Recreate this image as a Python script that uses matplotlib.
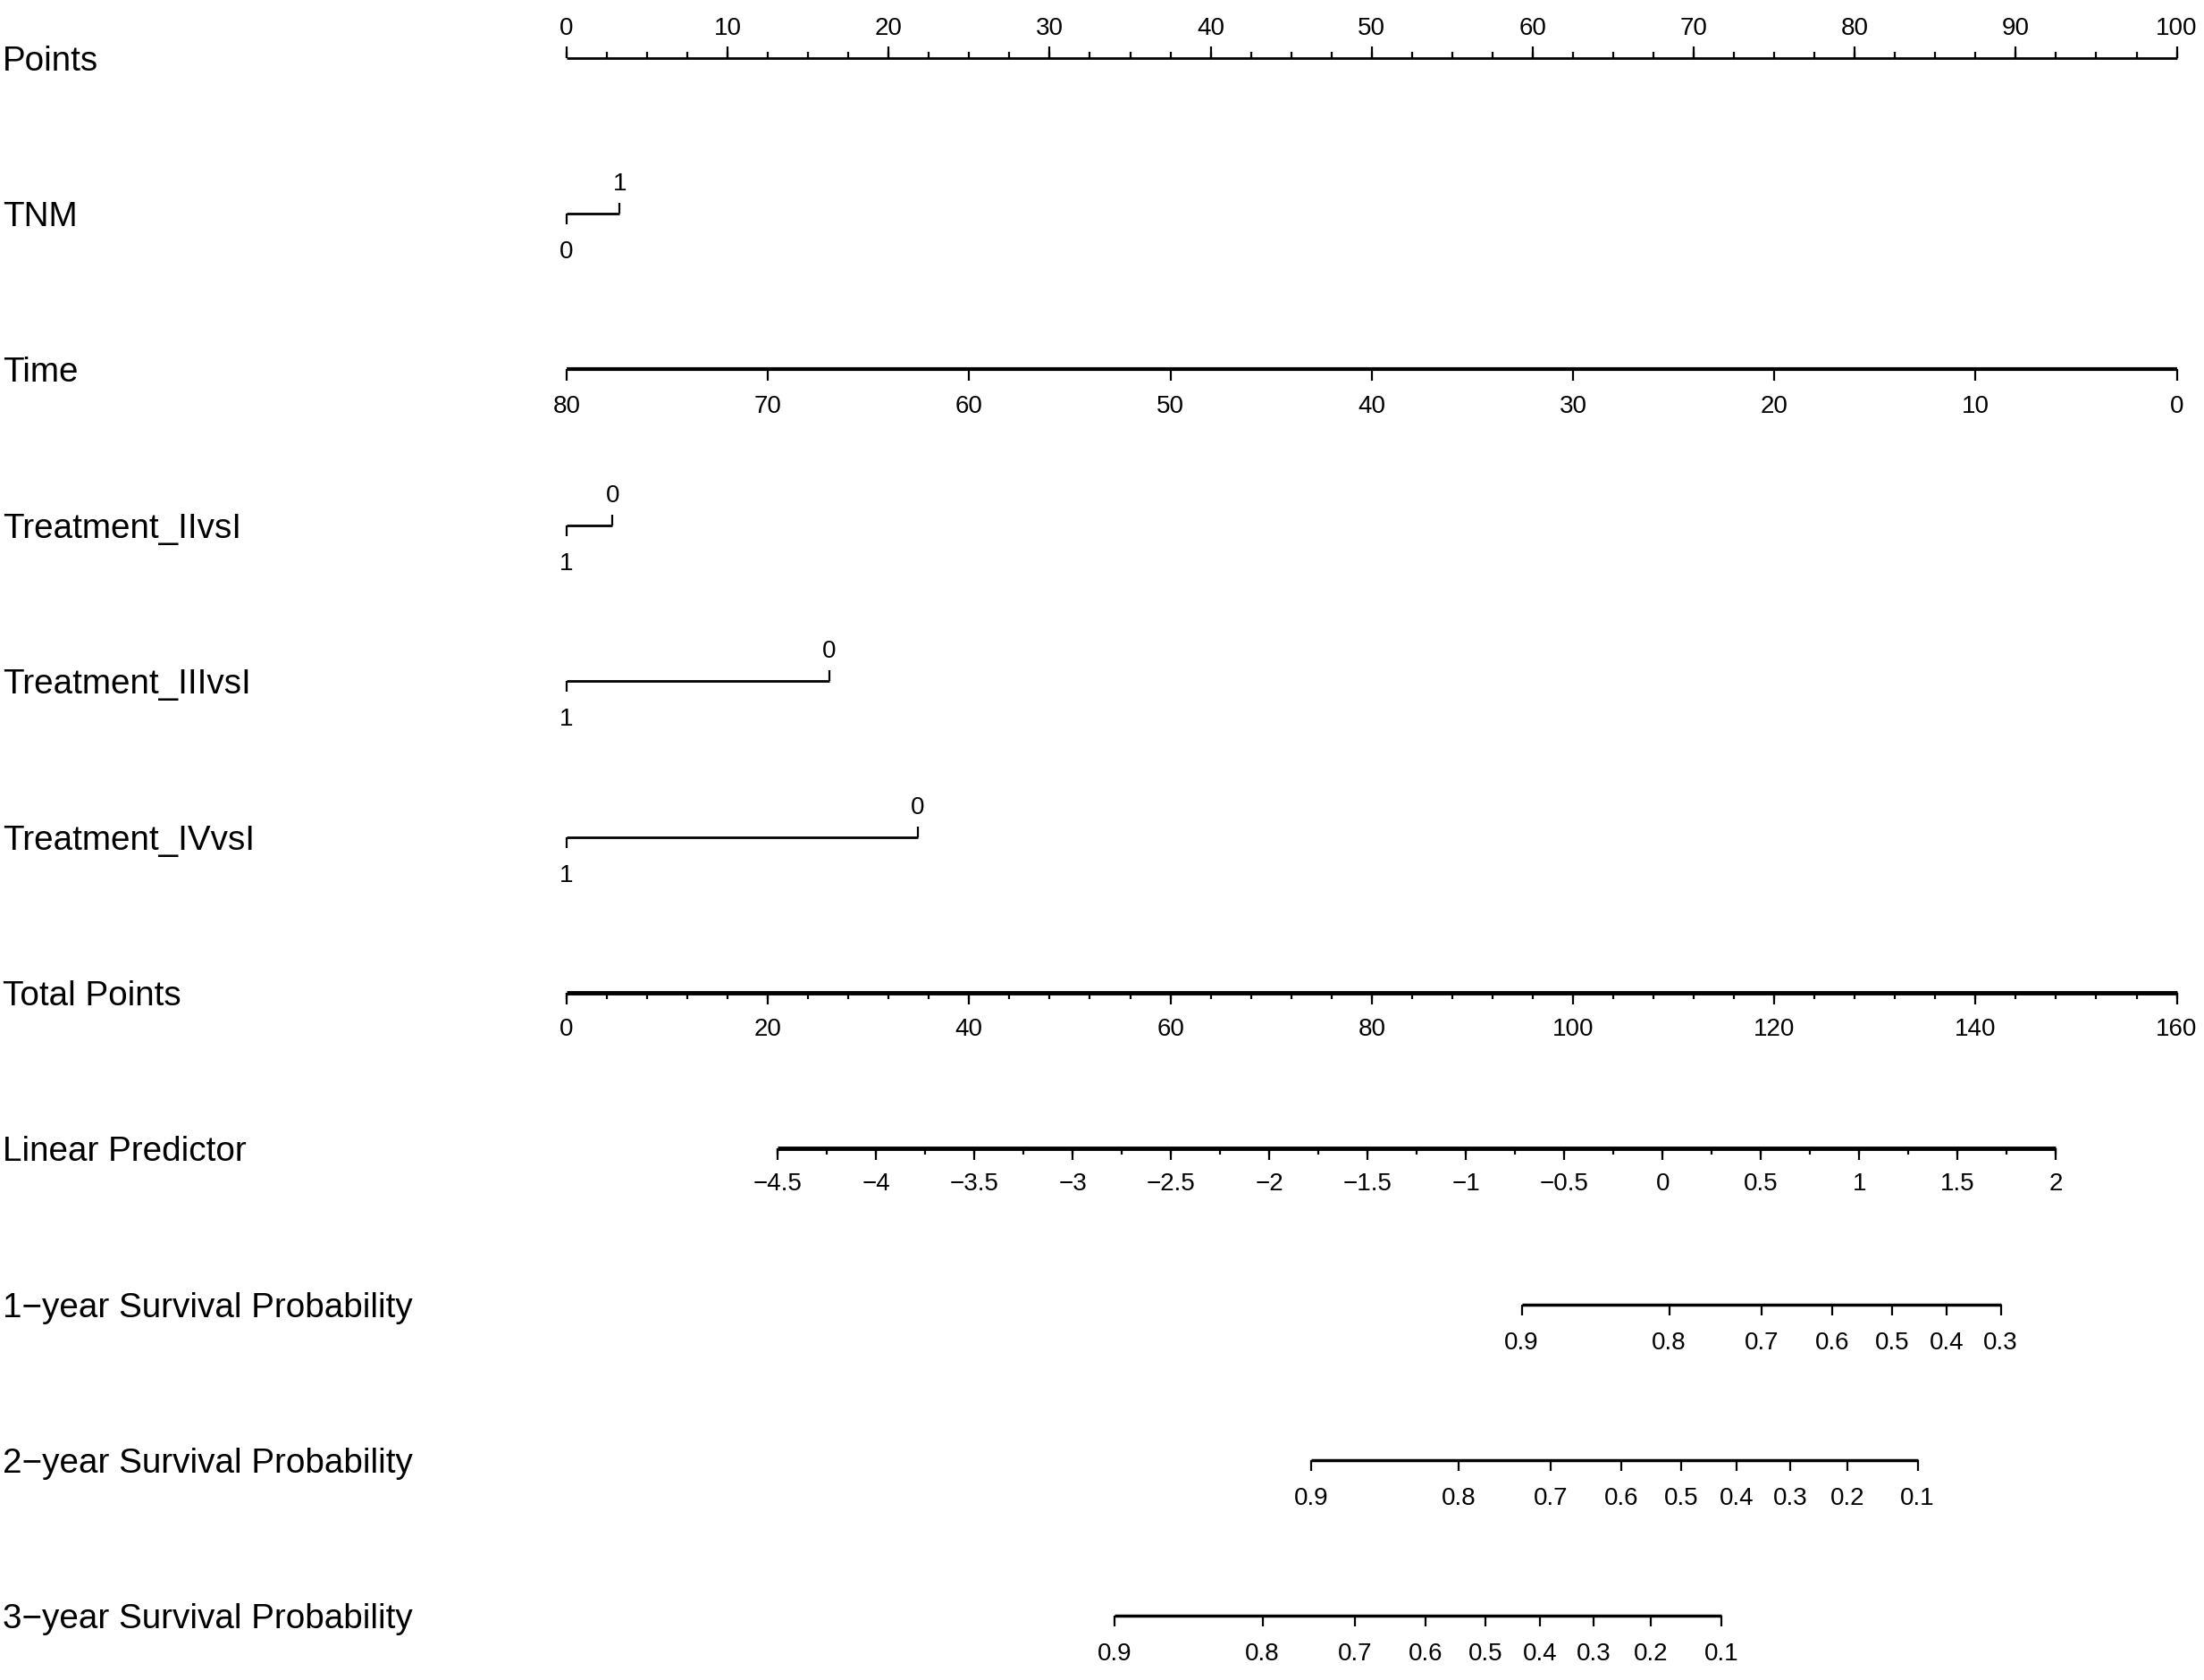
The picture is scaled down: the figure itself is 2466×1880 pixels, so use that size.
import matplotlib.pyplot as plt
import numpy as np

plt.rcParams['font.family'] = ['Liberation Sans', 'DejaVu Sans']

# nomogram rows, top to bottom
row_labels = ['Points', 'TNM', 'Time', 'Treatment_IIvsI', 'Treatment_IIIvsI',
              'Treatment_IVvsI', 'Total Points', 'Linear Predictor',
              '1\u2212year Survival Probability', '2\u2212year Survival Probability',
              '3\u2212year Survival Probability']

points_ticks = np.arange(0, 101, 10)
points_minor = np.arange(0, 100.1, 2.5)

tnm_levels = ['0', '1']
tnm_points = [0, 3.3]

time_ticks = [80, 70, 60, 50, 40, 30, 20, 10, 0]
time_range = [80, 0]          # Time value at 0 and at 100 points

trt2_levels = ['1', '0']
trt2_points = [0, 2.85]
trt3_levels = ['1', '0']
trt3_points = [0, 16.3]
trt4_levels = ['1', '0']
trt4_points = [0, 21.8]

total_ticks = np.arange(0, 161, 20)
total_minor = np.arange(0, 160.1, 4)
total_max = 160

lp_ticks = np.arange(-4.5, 2.01, 0.5)
lp_minor = np.arange(-4.5, 2.01, 0.25)
lp_range = [-4.5, 2]
lp_total = [20.98, 148.0]     # total points at both ends of the LP axis

surv1_probs = [0.9, 0.8, 0.7, 0.6, 0.5, 0.4, 0.3]
surv2_probs = [0.9, 0.8, 0.7, 0.6, 0.5, 0.4, 0.3, 0.2, 0.1]
surv3_probs = [0.9, 0.8, 0.7, 0.6, 0.5, 0.4, 0.3, 0.2, 0.1]
log_h0 = [-1.533, -0.462, 0.535]   # log cumulative baseline hazard at 1, 2, 3 years

fig = plt.figure(figsize=(24.66, 18.80), dpi=100)
ax = fig.add_axes([0, 0, 1, 1])
ax.set_xlim(-35.19, 101.69)
ax.set_ylim(10.41, -0.37)
ax.axis('off')

px = 1 / 174.4   # one pixel in row units
LAB = 27.8
TICK = 20


def tp_to_x(tp):
    return np.asarray(tp) / total_max * 100


def lp_to_x(lp):
    return tp_to_x(np.interp(lp, lp_range, lp_total))


def line(y, x0, x1, lw):
    ax.plot([x0, x1], [y, y], color='black', lw=lw, solid_capstyle='butt')


def ticks(y, xs, length, up, lw=1.6):
    d = -length * px if up else length * px
    ax.vlines(xs, y, y + d, color='black', lw=lw)


def labels_below(y, xs, texts, off=28):
    for x, t in zip(xs, texts):
        ax.text(x, y + off * px, t, ha='center', va='top', fontsize=TICK)


def labels_above(y, xs, texts, off=26):
    for x, t in zip(xs, texts):
        ax.text(x, y - off * px, t, ha='center', va='baseline', fontsize=TICK)


def fmt(v):
    return '{:g}'.format(v).replace('-', '\u2212')


for i, lab in enumerate(row_labels):
    ax.text(-35.02, i + 14 * px, lab, ha='left', va='baseline', fontsize=LAB)

# Points
y = 0
line(y, 0, 100, 2)
ticks(y, points_minor, 7, True)
ticks(y, points_ticks, 13, True)
labels_above(y, points_ticks, [fmt(v) for v in points_ticks])


# categorical rows
def cat_row(y, levels, pts):
    line(y, min(pts), max(pts), 2)
    for k, (lev, p) in enumerate(zip(levels, pts)):
        if k % 2 == 0:
            ticks(y, [p], 12, False)
            labels_below(y, [p], [lev], off=30)
        else:
            ticks(y, [p], 12, True)
            labels_above(y, [p], [lev])


cat_row(1, tnm_levels, tnm_points)

# Time
y = 2
time_x = np.interp(time_ticks, time_range[::-1], [100, 0])
line(y, time_x.min(), time_x.max(), 3)
ticks(y, time_x, 13, False)
labels_below(y, time_x, [fmt(v) for v in time_ticks], off=29)

cat_row(3, trt2_levels, trt2_points)
cat_row(4, trt3_levels, trt3_points)
cat_row(5, trt4_levels, trt4_points)

# Total Points
y = 6
line(y, 0, 100, 3.5)
ticks(y, tp_to_x(total_minor), 7, False)
ticks(y, tp_to_x(total_ticks), 13, False)
labels_below(y, tp_to_x(total_ticks), [fmt(v) for v in total_ticks])

# Linear Predictor
y = 7
line(y, lp_to_x(lp_range[0]), lp_to_x(lp_range[1]), 3.5)
ticks(y, lp_to_x(lp_minor), 7, False)
ticks(y, lp_to_x(lp_ticks), 13, False)
labels_below(y, lp_to_x(lp_ticks), [fmt(v) for v in lp_ticks], off=27)

# survival rows
for y, probs, h in zip([8, 9, 10], [surv1_probs, surv2_probs, surv3_probs], log_h0):
    lp = np.log(-np.log(np.array(probs))) - h
    xs = lp_to_x(lp)
    line(y, xs.min(), xs.max(), 2.5)
    ticks(y, xs, 12, False)
    labels_below(y, xs, [fmt(v) for v in probs], off=30)

fig.savefig('out.png', dpi=100, facecolor='white')
